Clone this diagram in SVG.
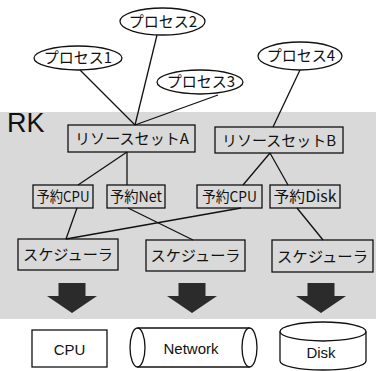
<svg xmlns="http://www.w3.org/2000/svg" width="376" height="371" viewBox="0 0 376 371">
  <style>
    .shape { fill: none; stroke: #111; stroke-width: 1.3; }
    .proc { fill: #fff; stroke: #111; stroke-width: 1.3; }
    .jp { font-family: "Noto Sans CJK JP", "Noto Sans", sans-serif; font-size: 15px; fill: #111; text-anchor: middle; }
    .lat { font-family: "Liberation Sans", Arial, sans-serif; font-size: 15px; fill: #111; text-anchor: middle; }
    .link { stroke: #111; stroke-width: 1.3; fill: none; }
    .big { fill: #2b2b2b; }
  </style>
  <defs>
    <path id="down" d="M-13.5,0 H13.5 V13 H25 L0,30 L-25,13 H-13.5 Z"/>
  </defs>

  <rect x="0" y="0" width="376" height="371" fill="#fff"/>
  <!-- RK area -->
  <rect id="rk-area" x="0" y="112" width="376" height="207" fill="#d9d9d9"/>
  <text x="7" y="132" font-family="Liberation Sans, Arial, sans-serif" font-size="27" fill="#111">RK</text>

  <!-- connectors -->
  <g id="connectors">
    <line class="link" x1="80" y1="70" x2="135" y2="125"/>
    <line class="link" x1="157" y1="35" x2="135" y2="125"/>
    <line class="link" x1="218" y1="95" x2="135" y2="125"/>
    <line class="link" x1="300" y1="70" x2="273" y2="127"/>
    <line class="link" x1="127" y1="152" x2="78" y2="185"/>
    <line class="link" x1="127" y1="152" x2="127" y2="185"/>
    <line class="link" x1="270" y1="153" x2="243" y2="185"/>
    <line class="link" x1="270" y1="153" x2="288" y2="185"/>
    <line class="link" x1="77" y1="208" x2="66" y2="239"/>
    <line class="link" x1="128" y1="208" x2="193" y2="240"/>
    <line class="link" x1="241" y1="208" x2="66" y2="239"/>
    <line class="link" x1="297" y1="208" x2="323" y2="240"/>
    <use href="#down" class="big" x="72" y="283"/>
    <use href="#down" class="big" x="192" y="283"/>
    <use href="#down" class="big" x="321" y="283"/>
  </g>

  <!-- processes -->
  <g id="proc1">
    <ellipse class="proc" cx="78" cy="58" rx="44" ry="12"/>
    <text class="jp" x="78" y="63" font-size="14">プロセス1</text>
  </g>
  <g id="proc2">
    <ellipse class="proc" cx="162.5" cy="21.5" rx="42.5" ry="13.5"/>
    <text class="jp" x="163" y="26.5" font-size="14">プロセス2</text>
  </g>
  <g id="proc3">
    <ellipse class="proc" cx="200" cy="82" rx="43" ry="12"/>
    <text class="jp" x="201" y="87" font-size="14">プロセス3</text>
  </g>
  <g id="proc4">
    <ellipse class="proc" cx="300" cy="56" rx="42" ry="14"/>
    <text class="jp" x="301" y="61" font-size="14">プロセス4</text>
  </g>

  <!-- resource sets -->
  <g id="rsetA">
    <rect class="shape" x="68" y="125" width="127" height="27"/>
    <text class="jp" x="132" y="144" textLength="114" lengthAdjust="spacingAndGlyphs">リソースセットA</text>
  </g>
  <g id="rsetB">
    <rect class="shape" x="215" y="127" width="128" height="26"/>
    <text class="jp" x="279" y="145.5" textLength="114" lengthAdjust="spacingAndGlyphs">リソースセットB</text>
  </g>

  <!-- reservations -->
  <g id="resvCpuA">
    <rect class="shape" x="33" y="185" width="60" height="23"/>
    <text class="jp" x="63" y="202" textLength="53" lengthAdjust="spacingAndGlyphs">予約CPU</text>
  </g>
  <g id="resvNet">
    <rect class="shape" x="107" y="185" width="58" height="23"/>
    <text class="jp" x="136" y="202" textLength="52" lengthAdjust="spacingAndGlyphs">予約Net</text>
  </g>
  <g id="resvCpuB">
    <rect class="shape" x="197" y="185" width="65" height="23"/>
    <text class="jp" x="229.5" y="202" textLength="55" lengthAdjust="spacingAndGlyphs">予約CPU</text>
  </g>
  <g id="resvDisk">
    <rect class="shape" x="270" y="185" width="70" height="23"/>
    <text class="jp" x="305" y="202" textLength="63" lengthAdjust="spacingAndGlyphs">予約Disk</text>
  </g>

  <!-- schedulers -->
  <g id="sched1">
    <rect class="shape" x="18" y="239" width="100" height="31"/>
    <text class="jp" x="68" y="260" textLength="90" lengthAdjust="spacingAndGlyphs">スケジューラ</text>
  </g>
  <g id="sched2">
    <rect class="shape" x="146" y="240" width="99" height="31"/>
    <text class="jp" x="195.5" y="261" textLength="90" lengthAdjust="spacingAndGlyphs">スケジューラ</text>
  </g>
  <g id="sched3">
    <rect class="shape" x="272" y="240" width="101" height="32"/>
    <text class="jp" x="322.5" y="262" textLength="91" lengthAdjust="spacingAndGlyphs">スケジューラ</text>
  </g>

  <!-- devices -->
  <g id="cpu">
    <rect class="shape" x="32" y="330" width="75" height="37"/>
    <text class="lat" x="69.5" y="355" font-size="16">CPU</text>
  </g>
  <g id="network">
    <line class="link" x1="137.5" y1="328" x2="249.5" y2="328"/>
    <line class="link" x1="137.5" y1="367" x2="249.5" y2="367"/>
    <ellipse class="shape" cx="137.5" cy="347.5" rx="7.5" ry="19.5"/>
    <ellipse class="shape" cx="249.5" cy="347.5" rx="7.5" ry="19.5"/>
    <text class="lat" x="191" y="354">Network</text>
  </g>
  <g id="disk">
    <path class="shape" d="M280,331.5 V361 A43,9 0 0 0 366,361 V331.5"/>
    <ellipse class="shape" cx="323" cy="331.5" rx="43" ry="9.5"/>
    <text class="lat" x="321" y="358" font-size="16">Disk</text>
  </g>
</svg>
